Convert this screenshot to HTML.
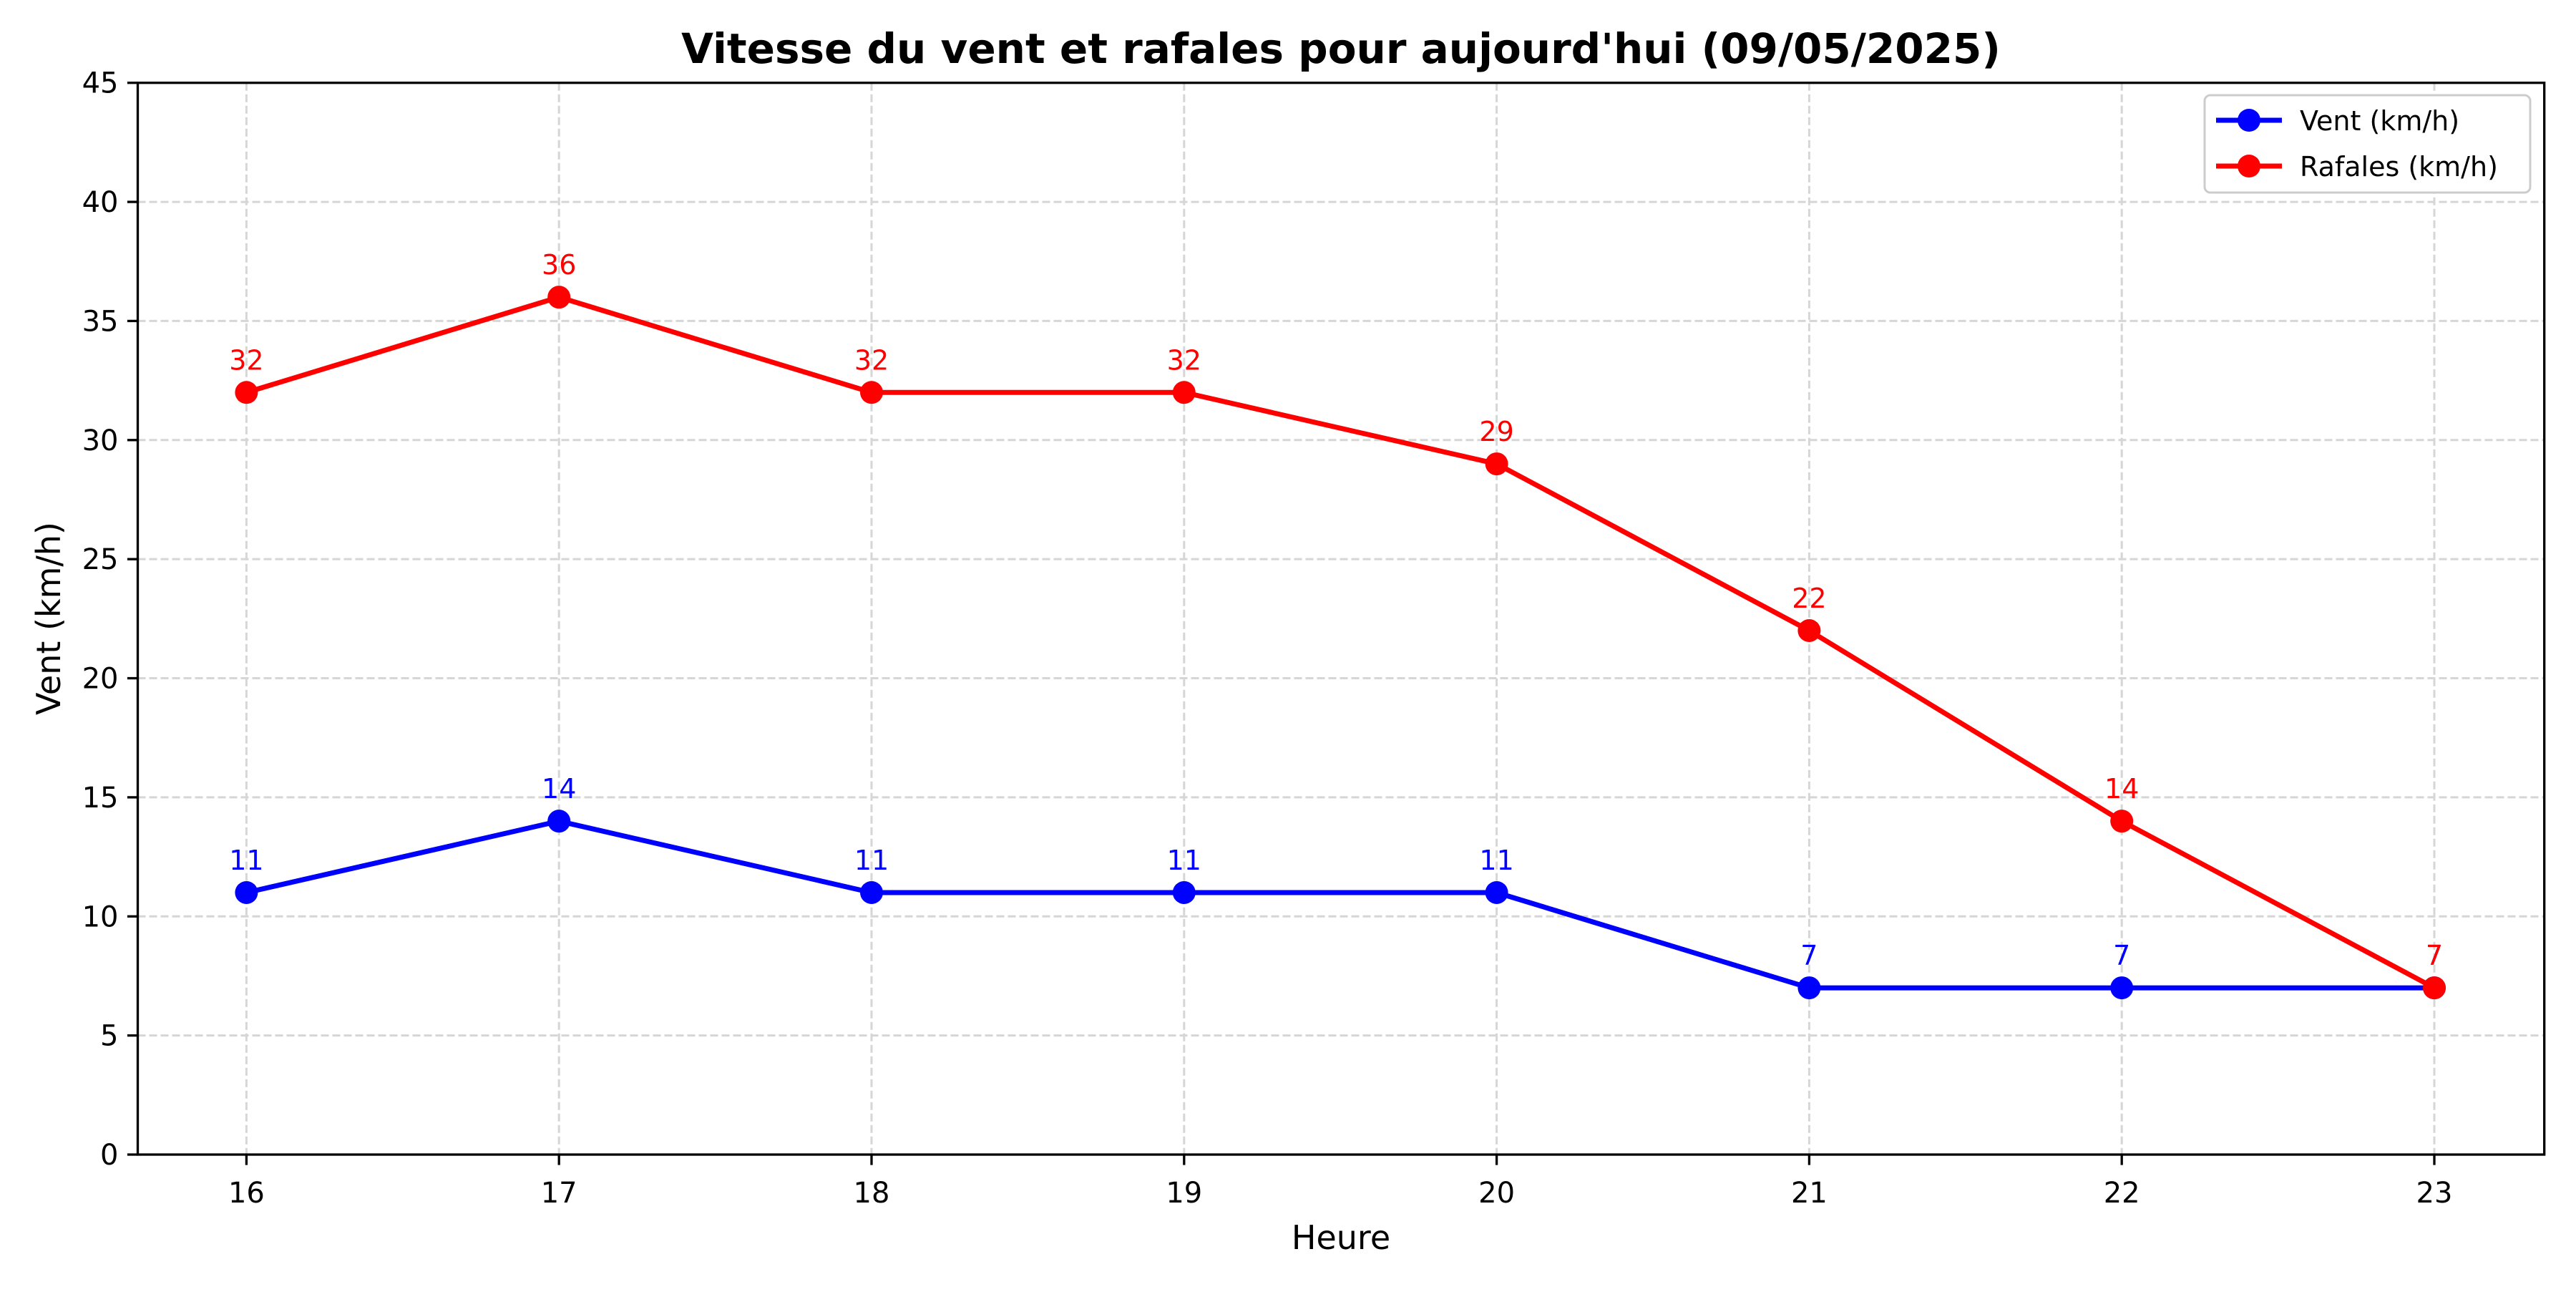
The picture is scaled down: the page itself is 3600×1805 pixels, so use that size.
<!DOCTYPE html>
<html><head><meta charset="utf-8"><style>html,body{margin:0;padding:0;background:#fff}</style></head>
<body>
<svg id="chart" xmlns="http://www.w3.org/2000/svg" width="3600" height="1800" viewBox="0 0 3600 1800" font-family="'DejaVu Sans','Liberation Sans',sans-serif">
<rect width="3600" height="1800" fill="#fff"/>
<g id="grid"></g><g id="axes"></g><g id="series"></g>
<text x="1874" y="88" text-anchor="middle" font-size="58" font-weight="bold">Vitesse du vent et rafales pour aujourd'hui (09/05/2025)</text>
<text x="1874" y="1745" text-anchor="middle" font-size="46">Heure</text>
<text transform="translate(84,864) rotate(-90)" text-anchor="middle" font-size="46">Vent (km/h)</text>
<g>
<rect x="3081" y="133" width="455" height="136" rx="8" fill="#fff" stroke="#ccc" stroke-width="3"/>
<g>
<line x1="3097" y1="168" x2="3189" y2="168" stroke="#0000ff" stroke-width="7"/><circle cx="3143" cy="168" r="16" fill="#0000ff"/>
<text x="3214" y="182" font-size="38">Vent (km/h)</text></g>
<g>
<line x1="3097" y1="232" x2="3189" y2="232" stroke="#ff0000" stroke-width="7"/><circle cx="3143" cy="232" r="16" fill="#ff0000"/>
<text x="3214" y="246" font-size="38">Rafales (km/h)</text></g>
</g>
</svg>
<script>
const hours = [16,17,18,19,20,21,22,23];
const vent = [11,14,11,11,11,7,7,7];
const rafales = [32,36,32,32,29,22,14,7];
const yTicks = [0,5,10,15,20,25,30,35,40,45];
const NS="http://www.w3.org/2000/svg";
const L=192.5,R=3555.7,T=115.7,B=1613;
const xs=h=>344.4+(h-16)*436.8;
const ys=v=>B-(v/45)*(B-T);
function mk(p,tag,a){const e=document.createElementNS(NS,tag);for(const k in a)e.setAttribute(k,a[k]);p.appendChild(e);return e;}
const grid=document.getElementById('grid'),axes=document.getElementById('axes'),ser=document.getElementById('series');
yTicks.forEach(v=>{
 const y=ys(v);
 if(v>0&&v<45){const g=mk(grid,'line',{x1:L,x2:R,y1:y,y2:y,stroke:'#d6d6d6','stroke-width':3,'stroke-dasharray':'11 5'});
 
 }
 const t=mk(axes,'line',{x1:L-14.6,x2:L,y1:y,y2:y,stroke:'#000','stroke-width':3.3});
 
 
 const tx=mk(axes,'text',{x:L-27,y:y+14,'text-anchor':'end','font-size':40});
 tx.textContent=v;
 
 
});
hours.forEach(h=>{
 const x=xs(h);
 const g=mk(grid,'line',{x1:x,x2:x,y1:T,y2:B,stroke:'#d6d6d6','stroke-width':3,'stroke-dasharray':'11 5'});
 
 
 const t=mk(axes,'line',{x1:x,x2:x,y1:B,y2:B+14.6,stroke:'#000','stroke-width':3.3});
 
 
 const tx=mk(axes,'text',{x:x,y:1680,'text-anchor':'middle','font-size':40});
 tx.textContent=h;
 
 
});
const fr=mk(axes,'rect',{x:L,y:T,width:R-L,height:B-T,fill:'none',stroke:'#000','stroke-width':3.3});


function drawSeries(vals,color,name){
 const g=mk(ser,'g',{});
 
 
 const pl=mk(g,'polyline',{points:vals.map((v,i)=>xs(hours[i])+','+ys(v)).join(' '),fill:'none',stroke:color,'stroke-width':7,'stroke-linejoin':'round'});
 
 
 vals.forEach((v,i)=>{
  const c=mk(g,'circle',{cx:xs(hours[i]),cy:ys(v),r:16,fill:color});
  
  
  const t=mk(g,'text',{x:xs(hours[i]),y:ys(v)-32,'text-anchor':'middle','font-size':38,fill:color});
  t.textContent=v;
  
  
 });
}
drawSeries(vent,'#0000ff','vent');
drawSeries(rafales,'#ff0000','rafales');
</script>
</body></html>
